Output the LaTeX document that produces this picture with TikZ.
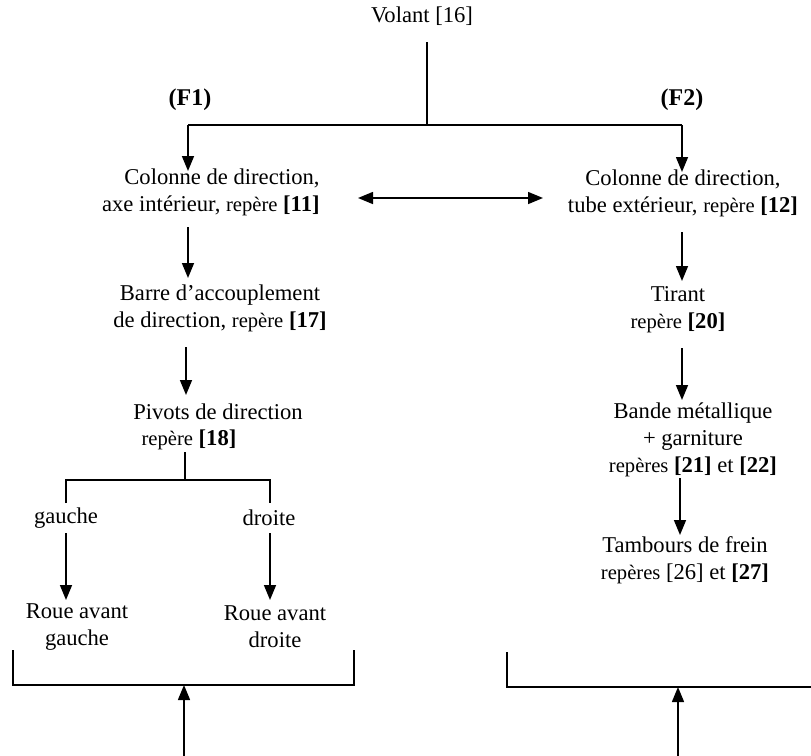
\documentclass[tikz,border=0pt]{standalone}
\usepackage{fontspec}
\setmainfont{Liberation Serif}
\usetikzlibrary{arrows.meta}
\newcommand{\smrep}[1]{{\fontsize{10.3}{12}\selectfont #1}}
\begin{document}
\begin{tikzpicture}[x=0.5pt,y=-0.5pt,
  txt/.style={font=\fontsize{11.3}{13.5}\selectfont, inner sep=0pt, align=center},
  ftxt/.style={font=\fontsize{12}{14}\selectfont\bfseries, inner sep=0pt},
  ln/.style={line width=0.75pt},
  arr/.style={ln,-{Triangle[length=7.5pt,width=6pt]}},
  darr/.style={ln,{Triangle[length=7.5pt,width=6pt]}-{Triangle[length=7.5pt,width=6pt]}}]
\useasboundingbox (0,0) rectangle (811,756);

% text nodes
\node[txt] (volant) at (422,16) {Volant [16]};
\node[ftxt] (f1) at (190,100) {(F1)};
\node[ftxt] (f2) at (682,100) {(F2)};
\node[txt, align=right, anchor=east] (col1) at (320,192.5) {Colonne de direction,\\axe intérieur, \smrep{repère} \textbf{[11]}};
\node[txt] (col2) at (683,193) {Colonne de direction,\\tube extérieur, \smrep{repère} \textbf{[12]}};
\node[txt] (barre) at (220,308) {Barre d'accouplement\\de direction, \smrep{repère} \textbf{[17]}};
\node[txt] (tirant) at (678,310) {Tirant\\\smrep{repère} \textbf{[20]}};
\node[txt] (pivots) at (218,412) {Pivots de direction};
\node[txt] (rep18) at (189,440) {\smrep{repère} \textbf{[18]}};
\node[txt] (gauche) at (66,518) {gauche};
\node[txt] (droite) at (269,518) {droite};
\node[txt] (roueg) at (77,627) {Roue avant\\gauche};
\node[txt] (roued) at (275,627) {Roue avant\\droite};
\node[txt] (bande) at (693,440) {Bande métallique\\+ garniture\\\smrep{repères} \textbf{[21]} et \textbf{[22]}};
\node[txt] (tamb) at (685,560) {Tambours de frein\\\smrep{repères} [26] et \textbf{[27]}};

% connector points
\coordinate (t0) at (427,42);
\coordinate (j0) at (427,125);
\coordinate (jl) at (188,125);
\coordinate (jr) at (682,125);
\coordinate (col1in) at (188,171);
\coordinate (col2in) at (682,172);
\coordinate (dl) at (358,198);
\coordinate (dr) at (543,198);
\coordinate (col1out) at (188,227);
\coordinate (barrein) at (188,278);
\coordinate (col2out) at (682,232);
\coordinate (tirantin) at (682,281);
\coordinate (barreout) at (186,347);
\coordinate (pivotsin) at (186,395);
\coordinate (tirantout) at (682,348);
\coordinate (bandein) at (682,400);
\coordinate (p0) at (185,452);
\coordinate (p1) at (185,480);
\coordinate (pl) at (66,480);
\coordinate (pr) at (270,480);
\coordinate (gin) at (66,503);
\coordinate (din) at (270,503);
\coordinate (gout) at (66,533);
\coordinate (dout) at (270,533);
\coordinate (rgin) at (66,600);
\coordinate (rdin) at (270,600);
\coordinate (bandeout) at (680,478);
\coordinate (tambin) at (680,535);
\coordinate (bl1) at (13,650);
\coordinate (bl2) at (13,685);
\coordinate (bl3) at (354,685);
\coordinate (bl4) at (354,650);
\coordinate (ul0) at (184,756);
\coordinate (ul1) at (184,685);
\coordinate (br1) at (507,652);
\coordinate (br2) at (507,687);
\coordinate (br3) at (811,687);
\coordinate (ur0) at (678,756);
\coordinate (ur1) at (678,687);

% connectors
\draw[ln] (t0) -- (j0);
\draw[ln] (jl) -- (jr);
\draw[arr] (jl) -- (col1in);
\draw[arr] (jr) -- (col2in);
\draw[darr] (dl) -- (dr);
\draw[arr] (col1out) -- (barrein);
\draw[arr] (col2out) -- (tirantin);
\draw[arr] (barreout) -- (pivotsin);
\draw[arr] (tirantout) -- (bandein);
\draw[ln] (p0) -- (p1);
\draw[ln] (gin) -- (pl) -- (pr) -- (din);
\draw[arr] (gout) -- (rgin);
\draw[arr] (dout) -- (rdin);
\draw[arr] (bandeout) -- (tambin);
\draw[ln] (bl1) -- (bl2) -- (bl3) -- (bl4);
\draw[arr] (ul0) -- (ul1);
\draw[ln] (br1) -- (br2) -- (br3);
\draw[arr] (ur0) -- (ur1);
\end{tikzpicture}
\end{document}
